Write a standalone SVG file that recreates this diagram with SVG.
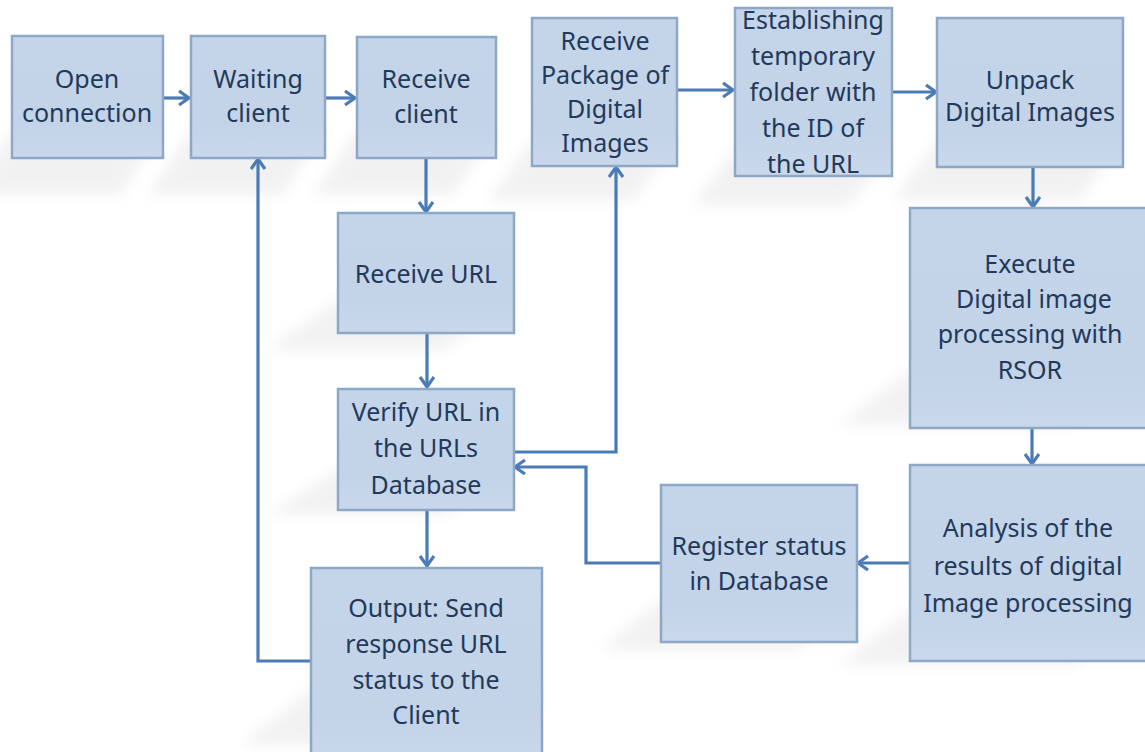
<svg xmlns="http://www.w3.org/2000/svg" width="1145" height="752" viewBox="0 0 1145 752">
<defs>
<style>
.box{fill:url(#boxg);stroke:#8fa7c6;stroke-width:2.5}
.t{font-family:"Noto Sans","Open Sans","DejaVu Sans",sans-serif;font-size:25px;fill:#22395a;text-anchor:middle}
.c{fill:none;stroke:#4a7bb6;stroke-width:3.2;marker-end:url(#ah)}
.sh{fill:#8a8a8a;opacity:0.11;filter:url(#blur)}
</style>
<linearGradient id="boxg" x1="0" y1="0" x2="0" y2="1">
<stop offset="0" stop-color="#c5d5e9"/>
<stop offset="0.7" stop-color="#c3d3e8"/>
<stop offset="1" stop-color="#c9d8ea"/>
</linearGradient>
<filter id="blur" x="-30%" y="-30%" width="160%" height="160%"><feGaussianBlur stdDeviation="7"/></filter>
<marker id="ah" markerUnits="userSpaceOnUse" markerWidth="16" markerHeight="18" refX="12" refY="8" orient="auto">
<path d="M2,1 L12,8 L2,15" fill="none" stroke="#4a7bb6" stroke-width="3.2"/>
</marker>
</defs>
<rect width="1145" height="752" fill="#ffffff"/>
<g id="shadows">
<polygon class="sh" points="12,130 163,130 120,195 -30,195"/>
<polygon class="sh" points="191,130 325,130 282,195 148,195"/>
<polygon class="sh" points="357,130 496,130 453,195 314,195"/>
<polygon class="sh" points="532,140 677,140 634,200 489,200"/>
<polygon class="sh" points="735,150 892,150 849,205 692,205"/>
<polygon class="sh" points="937,140 1123,140 1080,200 894,200"/>
<polygon class="sh" points="338,300 514,300 444,350 268,350"/>
<polygon class="sh" points="338,470 514,470 444,515 268,515"/>
<polygon class="sh" points="311,690 542,690 472,745 241,745"/>
<polygon class="sh" points="910,370 1145,370 1075,425 840,425"/>
<polygon class="sh" points="910,610 1145,610 1075,665 840,665"/>
<polygon class="sh" points="661,600 857,600 797,650 601,650"/>
</g>
<g id="connectors">
<path class="c" d="M163,98 H189"/>
<path class="c" d="M325,98 H355"/>
<path class="c" d="M426,158 V212"/>
<path class="c" d="M427,333 V387"/>
<path class="c" d="M427,510 V566"/>
<path class="c" d="M311,661 H258 V159"/>
<path class="c" d="M514,452 H616 V167"/>
<path class="c" d="M661,563 H586 V467 H515"/>
<path class="c" d="M677,90 H733"/>
<path class="c" d="M892,92 H936"/>
<path class="c" d="M1033,167 V207"/>
<path class="c" d="M1032,428 V464"/>
<path class="c" d="M910,563 H858"/>
</g>
<g id="open-connection">
<rect class="box" x="12" y="36" width="151" height="122"/>
<text class="t" x="87" y="88">Open</text>
<text class="t" x="87" y="122">connection</text>
</g>
<g id="waiting-client">
<rect class="box" x="191" y="36" width="134" height="122"/>
<text class="t" x="258" y="88">Waiting</text>
<text class="t" x="258" y="122">client</text>
</g>
<g id="receive-client">
<rect class="box" x="357" y="37" width="139" height="121"/>
<text class="t" x="426" y="88">Receive</text>
<text class="t" x="426" y="123">client</text>
</g>
<g id="receive-package">
<rect class="box" x="532" y="18" width="145" height="148"/>
<text class="t" x="605" y="50">Receive</text>
<text class="t" x="605" y="84">Package of</text>
<text class="t" x="605" y="118">Digital</text>
<text class="t" x="605" y="152">Images</text>
</g>
<g id="establishing-folder">
<rect class="box" x="735" y="8" width="157" height="168"/>
<text class="t" x="813" y="29">Establishing</text>
<text class="t" x="813" y="65">temporary</text>
<text class="t" x="813" y="101">folder with</text>
<text class="t" x="813" y="137">the ID of</text>
<text class="t" x="813" y="173">the URL</text>
</g>
<g id="unpack">
<rect class="box" x="937" y="18" width="186" height="149"/>
<text class="t" x="1030" y="89">Unpack</text>
<text class="t" x="1030" y="121">Digital Images</text>
</g>
<g id="execute">
<rect class="box" x="910" y="208" width="240" height="220"/>
<text class="t" x="1030" y="273">Execute</text>
<text class="t" x="1034" y="308">Digital image</text>
<text class="t" x="1030" y="343">processing with</text>
<text class="t" x="1030" y="379">RSOR</text>
</g>
<g id="analysis">
<rect class="box" x="910" y="465" width="240" height="196"/>
<text class="t" x="1028" y="537">Analysis of the</text>
<text class="t" x="1028" y="575">results of digital</text>
<text class="t" x="1028" y="612">Image processing</text>
</g>
<g id="register-status">
<rect class="box" x="661" y="485" width="196" height="157"/>
<text class="t" x="759" y="555">Register status</text>
<text class="t" x="759" y="590">in Database</text>
</g>
<g id="receive-url">
<rect class="box" x="338" y="213" width="176" height="120"/>
<text class="t" x="426" y="283">Receive URL</text>
</g>
<g id="verify-url">
<rect class="box" x="338" y="389" width="176" height="121"/>
<text class="t" x="426" y="421">Verify URL in</text>
<text class="t" x="426" y="457">the URLs</text>
<text class="t" x="426" y="494">Database</text>
</g>
<g id="output">
<rect class="box" x="311" y="568" width="231" height="200"/>
<text class="t" x="426" y="617">Output: Send</text>
<text class="t" x="426" y="653">response URL</text>
<text class="t" x="426" y="689">status to the</text>
<text class="t" x="426" y="724">Client</text>
</g>
</svg>
